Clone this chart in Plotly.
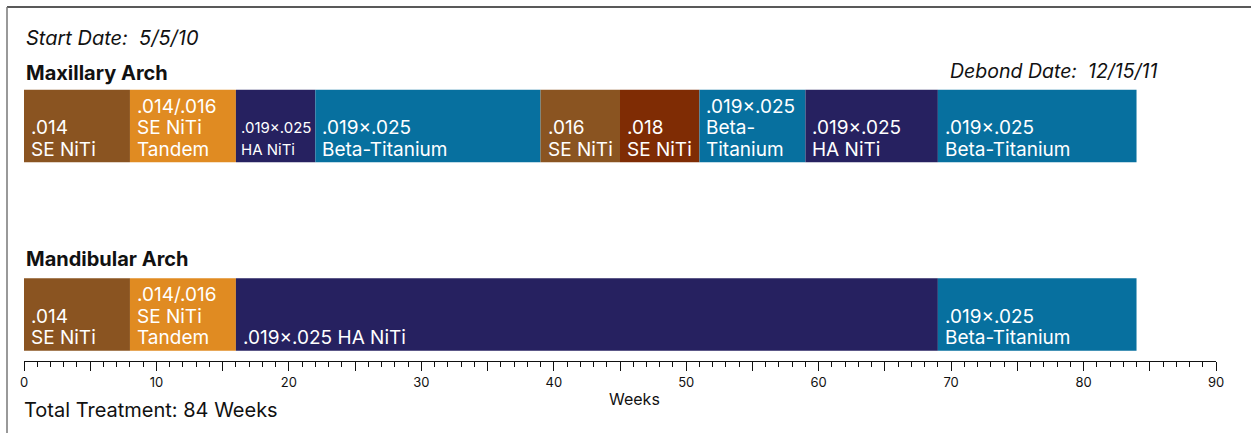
import plotly.graph_objects as go

# Archwire sequence per arch: start week, duration (weeks), wire label lines, colour
arches = ["Maxillary Arch", "Mandibular Arch"]

max_start = [0, 8, 16, 22, 39, 45, 51, 59, 69]
max_weeks = [8, 8, 6, 17, 6, 6, 8, 10, 15]
max_labels = [
    [".014", "SE NiTi"],
    [".014/.016", "SE NiTi", "Tandem"],
    [".019×.025", "HA NiTi"],
    [".019×.025", "Beta-Titanium"],
    [".016", "SE NiTi"],
    [".018", "SE NiTi"],
    [".019×.025", "Beta-", "Titanium"],
    [".019×.025", "HA NiTi"],
    [".019×.025", "Beta-Titanium"],
]
max_colors = ["#8a5421", "#e08b22", "#262160", "#07709f", "#8a5421",
              "#7f2c04", "#07709f", "#262160", "#07709f"]
max_small = [False, False, True, False, False, False, False, False, False]

man_start = [0, 8, 16, 69]
man_weeks = [8, 8, 53, 15]
man_labels = [
    [".014", "SE NiTi"],
    [".014/.016", "SE NiTi", "Tandem"],
    [".019×.025 HA NiTi"],
    [".019×.025", "Beta-Titanium"],
]
man_colors = ["#8a5421", "#e08b22", "#262160", "#07709f"]
man_small = [False, False, False, False]

x_ticks = list(range(0, 91, 5))
x_ticktext = [str(v) if v % 10 == 0 else "" for v in x_ticks]

FONT = "Inter"
W, H = 1251, 433
ML, MR, MT, MB = 24, 35, 20, 72
PW = W - ML - MR
PH = H - MT - MB

row_y = {"Maxillary Arch": 1.0, "Mandibular Arch": 0.0}
px_per_unit = 188.5
bar_w = 72.5 / px_per_unit
y_lo = -46.5 / px_per_unit
y_hi = y_lo + PH / px_per_unit


def px_x(px):
    return (px - ML) / PW


def px_y(py):
    return (H - MB - py) / PH


fig = go.Figure()
annotations = []

rows = [
    ("Maxillary Arch", max_start, max_weeks, max_labels, max_colors, max_small),
    ("Mandibular Arch", man_start, man_weeks, man_labels, man_colors, man_small),
]

for name, starts, weeks, labels, colors, small in rows:
    fig.add_trace(go.Bar(
        orientation="h",
        y=[row_y[name]] * len(starts),
        x=weeks,
        base=starts,
        width=bar_w,
        marker=dict(color=colors, line=dict(width=0)),
        name=name,
        showlegend=False,
        hoverinfo="skip",
    ))
    bottom = row_y[name] - bar_w / 2
    for s, lines, sm in zip(starts, labels, small):
        size = 15 if sm else 19
        n = len(lines)
        for i, line in enumerate(lines):
            k = n - 1 - i
            annotations.append(dict(
                x=s, y=bottom, xref="x", yref="y",
                text=line, showarrow=False,
                xanchor="left", yanchor="middle",
                xshift=3 if sm else 5, yshift=13 + k * 21.5,
                font=dict(family=FONT, size=size, color="white"),
            ))

# Headings and notes
annotations += [
    dict(x=px_x(24), y=px_y(38), xref="paper", yref="paper",
         text="<i>Start Date:  5/5/10</i>", showarrow=False,
         xanchor="left", yanchor="middle",
         font=dict(family=FONT, size=20, color="#111")),
    dict(x=px_x(24), y=px_y(73), xref="paper", yref="paper",
         text="<b>Maxillary Arch</b>", showarrow=False,
         xanchor="left", yanchor="middle",
         font=dict(family=FONT, size=20, color="#111")),
    dict(x=px_x(1160), y=px_y(71), xref="paper", yref="paper",
         text="<i>Debond Date:  12/15/11</i>", showarrow=False,
         xanchor="right", yanchor="middle",
         font=dict(family=FONT, size=19.5, color="#111")),
    dict(x=px_x(24), y=px_y(259), xref="paper", yref="paper",
         text="<b>Mandibular Arch</b>", showarrow=False,
         xanchor="left", yanchor="middle",
         font=dict(family=FONT, size=20, color="#111")),
    dict(x=px_x(22), y=px_y(410), xref="paper", yref="paper",
         text="Total Treatment: 84 Weeks", showarrow=False,
         xanchor="left", yanchor="middle",
         font=dict(family=FONT, size=20, color="#111")),
    dict(x=px_x(634), y=px_y(399), xref="paper", yref="paper",
         text="Weeks", showarrow=False,
         xanchor="center", yanchor="middle",
         font=dict(family=FONT, size=16, color="#111")),
]

fig.update_layout(
    width=W, height=H,
    margin=dict(l=ML, r=MR, t=MT, b=MB),
    paper_bgcolor="white", plot_bgcolor="white",
    barmode="overlay",
    annotations=annotations,
    shapes=[
        # outer frame (top and left edges)
        dict(type="line", xref="paper", yref="paper",
             x0=px_x(7), x1=px_x(1260), y0=px_y(7), y1=px_y(7),
             line=dict(color="#222", width=1.5)),
        dict(type="line", xref="paper", yref="paper",
             x0=px_x(7), x1=px_x(7), y0=px_y(7), y1=px_y(440),
             line=dict(color="#777", width=1.5)),
    ],
    xaxis=dict(
        range=[0, 90],
        tickvals=x_ticks, ticktext=x_ticktext,
        ticks="outside", ticklen=9, tickwidth=1.2, tickcolor="#111",
        minor=dict(dtick=1, ticks="outside", ticklen=5, tickwidth=1, tickcolor="#111"),
        showline=True, linecolor="#111", linewidth=1.2,
        showgrid=False, zeroline=False,
        tickfont=dict(family=FONT, size=13, color="#111"),
        fixedrange=True,
    ),
    yaxis=dict(
        range=[y_lo, y_hi],
        visible=False, fixedrange=True,
    ),
)

fig.write_html("out.html")
